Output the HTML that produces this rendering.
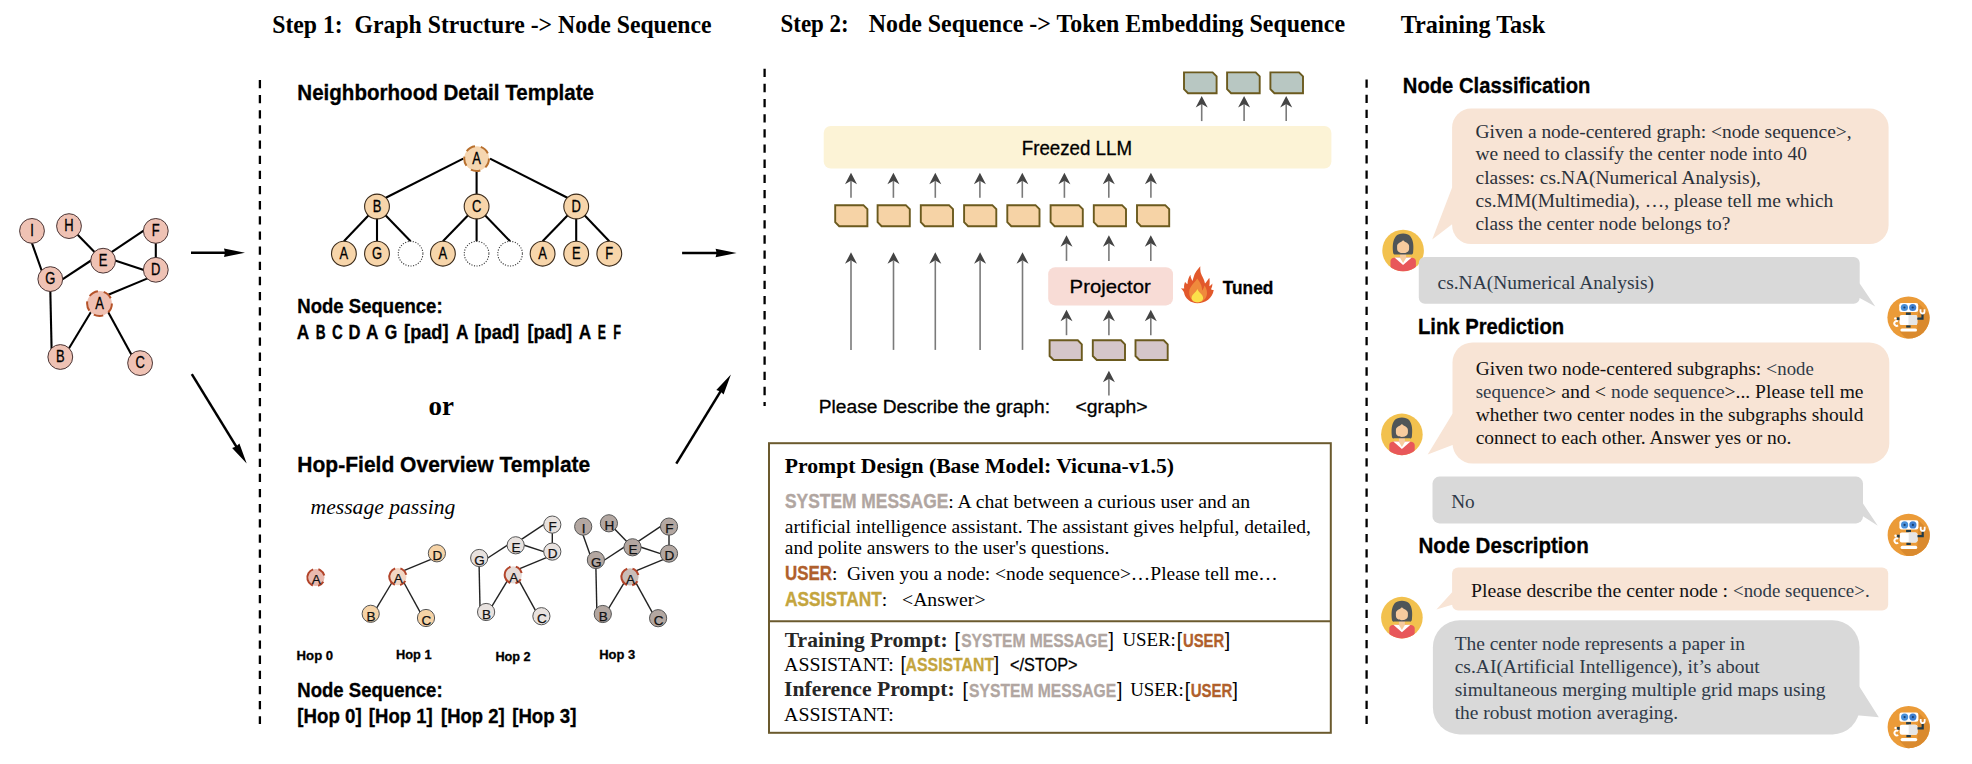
<!DOCTYPE html>
<html><head><meta charset="utf-8"><title>Figure</title>
<style>html,body{margin:0;padding:0;background:#fff;overflow:hidden;width:1972px;height:764px;}svg{display:block;}</style></head>
<body>
<svg width="1972" height="764" viewBox="0 0 1972 764">
<rect width="1972" height="764" fill="#fff"/>
<text x="272.2" y="32.9" font-size="25.3" fill="#000" textLength="439.4" lengthAdjust="spacingAndGlyphs" style='font-family:"Liberation Serif", serif;white-space:pre;font-weight:bold;' >Step 1:  Graph Structure -&gt; Node Sequence</text>
<text x="780.5" y="32.3" font-size="25.3" fill="#000" textLength="68.2" lengthAdjust="spacingAndGlyphs" style='font-family:"Liberation Serif", serif;white-space:pre;font-weight:bold;' >Step 2:</text>
<text x="868.7" y="32.3" font-size="25.3" fill="#000" textLength="476.4" lengthAdjust="spacingAndGlyphs" style='font-family:"Liberation Serif", serif;white-space:pre;font-weight:bold;' >Node Sequence -&gt; Token Embedding Sequence</text>
<text x="1400.7" y="33.0" font-size="25.3" fill="#000" textLength="144.5" lengthAdjust="spacingAndGlyphs" style='font-family:"Liberation Serif", serif;white-space:pre;font-weight:bold;' >Training Task</text>
<line x1="259.9" y1="79.9" x2="259.9" y2="724" stroke="#000" stroke-width="2.3" stroke-dasharray="8.3 6.85"/>
<line x1="764.6" y1="68.7" x2="764.6" y2="406" stroke="#000" stroke-width="2.3" stroke-dasharray="8.3 6.85"/>
<line x1="1366.6" y1="79.5" x2="1366.6" y2="724" stroke="#000" stroke-width="2.3" stroke-dasharray="8.3 6.85"/>
<line x1="31.6" y1="242.1" x2="42.0" y2="271.5" stroke="#000" stroke-width="2.1" />
<line x1="76.9" y1="234.0" x2="95.2" y2="252.8" stroke="#000" stroke-width="2.1" />
<line x1="110.8" y1="252.6" x2="144.4" y2="230.2" stroke="#000" stroke-width="2.1" />
<line x1="61.6" y1="279.8" x2="91.8" y2="260.0" stroke="#000" stroke-width="2.1" />
<line x1="114.3" y1="260.3" x2="144.6" y2="270.2" stroke="#000" stroke-width="2.1" />
<line x1="155.8" y1="242.0" x2="155.8" y2="258.7" stroke="#000" stroke-width="2.1" />
<line x1="148.2" y1="278.1" x2="107.1" y2="295.2" stroke="#000" stroke-width="2.1" />
<line x1="50.3" y1="290.2" x2="51.6" y2="349.5" stroke="#000" stroke-width="2.1" />
<line x1="91.4" y1="311.2" x2="68.4" y2="349.3" stroke="#000" stroke-width="2.1" />
<line x1="107.7" y1="311.2" x2="131.9" y2="355.4" stroke="#000" stroke-width="2.1" />
<circle cx="32.0" cy="230.9" r="12.4" fill="#efc2b4" stroke="#4a3535" stroke-width="1.0" />
<text x="30.20" y="236.1" font-size="15.8" textLength="3.60" lengthAdjust="spacingAndGlyphs" fill="#000" stroke="#000" stroke-width="0.3" style='font-family:"Liberation Sans",sans-serif;'>I</text>
<circle cx="69.0" cy="226.1" r="12.4" fill="#efc2b4" stroke="#4a3535" stroke-width="1.0" />
<text x="64.32" y="231.2" font-size="15.8" textLength="9.36" lengthAdjust="spacingAndGlyphs" fill="#000" stroke="#000" stroke-width="0.3" style='font-family:"Liberation Sans",sans-serif;'>H</text>
<circle cx="155.8" cy="230.9" r="12.4" fill="#efc2b4" stroke="#4a3535" stroke-width="1.0" />
<text x="151.84" y="236.1" font-size="15.8" textLength="7.91" lengthAdjust="spacingAndGlyphs" fill="#000" stroke="#000" stroke-width="0.3" style='font-family:"Liberation Sans",sans-serif;'>F</text>
<circle cx="103.1" cy="260.7" r="12.4" fill="#efc2b4" stroke="#4a3535" stroke-width="1.0" />
<text x="98.78" y="265.8" font-size="15.8" textLength="8.64" lengthAdjust="spacingAndGlyphs" fill="#000" stroke="#000" stroke-width="0.3" style='font-family:"Liberation Sans",sans-serif;'>E</text>
<circle cx="155.8" cy="269.8" r="12.4" fill="#efc2b4" stroke="#4a3535" stroke-width="1.0" />
<text x="151.12" y="274.9" font-size="15.8" textLength="9.36" lengthAdjust="spacingAndGlyphs" fill="#000" stroke="#000" stroke-width="0.3" style='font-family:"Liberation Sans",sans-serif;'>D</text>
<circle cx="50.3" cy="279.1" r="12.4" fill="#efc2b4" stroke="#4a3535" stroke-width="1.0" />
<text x="45.26" y="284.2" font-size="15.8" textLength="10.08" lengthAdjust="spacingAndGlyphs" fill="#000" stroke="#000" stroke-width="0.3" style='font-family:"Liberation Sans",sans-serif;'>G</text>
<circle cx="99.5" cy="303.5" r="12.4" fill="#efc0b2" stroke="#b5532a" stroke-width="2.0" stroke-dasharray="9.66 5.92"/>
<text x="95.18" y="308.6" font-size="15.8" textLength="8.64" lengthAdjust="spacingAndGlyphs" fill="#000" stroke="#000" stroke-width="0.3" style='font-family:"Liberation Sans",sans-serif;'>A</text>
<circle cx="60.3" cy="357.0" r="12.4" fill="#efc2b4" stroke="#4a3535" stroke-width="1.0" />
<text x="55.98" y="362.1" font-size="15.8" textLength="8.64" lengthAdjust="spacingAndGlyphs" fill="#000" stroke="#000" stroke-width="0.3" style='font-family:"Liberation Sans",sans-serif;'>B</text>
<circle cx="140.1" cy="363.1" r="12.4" fill="#efc2b4" stroke="#4a3535" stroke-width="1.0" />
<text x="135.42" y="368.2" font-size="15.8" textLength="9.36" lengthAdjust="spacingAndGlyphs" fill="#000" stroke="#000" stroke-width="0.3" style='font-family:"Liberation Sans",sans-serif;'>C</text>
<line x1="191.0" y1="252.7" x2="226.0" y2="252.7" stroke="#000" stroke-width="2.5" />
<path d="M245.0,252.7 L224.0,257.0 L225.0,252.7 L224.0,248.4 Z" fill="#000"/>
<line x1="191.8" y1="374.1" x2="236.8" y2="447.4" stroke="#000" stroke-width="2.5" />
<path d="M246.7,463.6 L232.1,447.9 L236.2,446.6 L239.4,443.5 Z" fill="#000"/>
<line x1="682.1" y1="253.0" x2="717.6" y2="253.0" stroke="#000" stroke-width="2.5" />
<path d="M736.6,253.0 L715.6,257.3 L716.6,253.0 L715.6,248.7 Z" fill="#000"/>
<line x1="676.3" y1="463.7" x2="721.0" y2="390.6" stroke="#000" stroke-width="2.5" />
<path d="M730.9,374.4 L723.6,394.6 L720.5,391.5 L716.3,390.1 Z" fill="#000"/>
<text x="297.3" y="99.5" font-size="21.8" fill="#000" textLength="296.7" lengthAdjust="spacingAndGlyphs" stroke="#000" stroke-width="0.3" style='font-family:"Liberation Sans", sans-serif;white-space:pre;font-weight:bold;' >Neighborhood Detail Template</text>
<line x1="463.2" y1="158.6" x2="385.8" y2="197.7" stroke="#000" stroke-width="2.1" />
<line x1="490.0" y1="158.6" x2="567.4" y2="197.7" stroke="#000" stroke-width="2.1" />
<line x1="476.6" y1="171.0" x2="476.6" y2="194.1" stroke="#000" stroke-width="2.1" />
<line x1="377.0" y1="206.5" x2="343.9" y2="241.3" stroke="#000" stroke-width="2.1" />
<line x1="377.0" y1="206.5" x2="377.0" y2="241.3" stroke="#000" stroke-width="2.1" />
<line x1="377.0" y1="206.5" x2="410.6" y2="241.3" stroke="#000" stroke-width="2.1" />
<line x1="476.6" y1="206.5" x2="442.9" y2="241.3" stroke="#000" stroke-width="2.1" />
<line x1="476.6" y1="206.5" x2="476.6" y2="241.3" stroke="#000" stroke-width="2.1" />
<line x1="476.6" y1="206.5" x2="510.1" y2="241.3" stroke="#000" stroke-width="2.1" />
<line x1="576.2" y1="206.5" x2="542.6" y2="241.3" stroke="#000" stroke-width="2.1" />
<line x1="576.2" y1="206.5" x2="576.2" y2="241.3" stroke="#000" stroke-width="2.1" />
<line x1="576.2" y1="206.5" x2="609.3" y2="241.3" stroke="#000" stroke-width="2.1" />
<circle cx="343.9" cy="253.7" r="12.4" fill="#f7d5aa" stroke="#3a2a1a" stroke-width="1.1" />
<text x="339.58" y="258.8" font-size="15.8" textLength="8.64" lengthAdjust="spacingAndGlyphs" fill="#000" stroke="#000" stroke-width="0.3" style='font-family:"Liberation Sans",sans-serif;'>A</text>
<circle cx="377.0" cy="253.7" r="12.4" fill="#f7d5aa" stroke="#3a2a1a" stroke-width="1.1" />
<text x="371.96" y="258.8" font-size="15.8" textLength="10.08" lengthAdjust="spacingAndGlyphs" fill="#000" stroke="#000" stroke-width="0.3" style='font-family:"Liberation Sans",sans-serif;'>G</text>
<circle cx="410.6" cy="253.7" r="12.3" fill="#fff" stroke="#333" stroke-width="1.1" stroke-dasharray="1.1 1.5"/>
<circle cx="442.9" cy="253.7" r="12.4" fill="#f7d5aa" stroke="#3a2a1a" stroke-width="1.1" />
<text x="438.58" y="258.8" font-size="15.8" textLength="8.64" lengthAdjust="spacingAndGlyphs" fill="#000" stroke="#000" stroke-width="0.3" style='font-family:"Liberation Sans",sans-serif;'>A</text>
<circle cx="476.6" cy="253.7" r="12.3" fill="#fff" stroke="#333" stroke-width="1.1" stroke-dasharray="1.1 1.5"/>
<circle cx="510.1" cy="253.7" r="12.3" fill="#fff" stroke="#333" stroke-width="1.1" stroke-dasharray="1.1 1.5"/>
<circle cx="542.6" cy="253.7" r="12.4" fill="#f7d5aa" stroke="#3a2a1a" stroke-width="1.1" />
<text x="538.28" y="258.8" font-size="15.8" textLength="8.64" lengthAdjust="spacingAndGlyphs" fill="#000" stroke="#000" stroke-width="0.3" style='font-family:"Liberation Sans",sans-serif;'>A</text>
<circle cx="576.2" cy="253.7" r="12.4" fill="#f7d5aa" stroke="#3a2a1a" stroke-width="1.1" />
<text x="571.88" y="258.8" font-size="15.8" textLength="8.64" lengthAdjust="spacingAndGlyphs" fill="#000" stroke="#000" stroke-width="0.3" style='font-family:"Liberation Sans",sans-serif;'>E</text>
<circle cx="609.3" cy="253.7" r="12.4" fill="#f7d5aa" stroke="#3a2a1a" stroke-width="1.1" />
<text x="605.34" y="258.8" font-size="15.8" textLength="7.91" lengthAdjust="spacingAndGlyphs" fill="#000" stroke="#000" stroke-width="0.3" style='font-family:"Liberation Sans",sans-serif;'>F</text>
<circle cx="377.0" cy="206.5" r="12.4" fill="#f7d5aa" stroke="#3a2a1a" stroke-width="1.1" />
<text x="372.68" y="211.7" font-size="15.8" textLength="8.64" lengthAdjust="spacingAndGlyphs" fill="#000" stroke="#000" stroke-width="0.3" style='font-family:"Liberation Sans",sans-serif;'>B</text>
<circle cx="476.6" cy="206.5" r="12.4" fill="#f7d5aa" stroke="#3a2a1a" stroke-width="1.1" />
<text x="471.92" y="211.7" font-size="15.8" textLength="9.36" lengthAdjust="spacingAndGlyphs" fill="#000" stroke="#000" stroke-width="0.3" style='font-family:"Liberation Sans",sans-serif;'>C</text>
<circle cx="576.2" cy="206.5" r="12.4" fill="#f7d5aa" stroke="#3a2a1a" stroke-width="1.1" />
<text x="571.52" y="211.7" font-size="15.8" textLength="9.36" lengthAdjust="spacingAndGlyphs" fill="#000" stroke="#000" stroke-width="0.3" style='font-family:"Liberation Sans",sans-serif;'>D</text>
<circle cx="476.6" cy="158.6" r="12.4" fill="#f6d6b0" stroke="#b8702e" stroke-width="2.0" stroke-dasharray="9.66 5.92"/>
<text x="472.28" y="163.8" font-size="15.8" textLength="8.64" lengthAdjust="spacingAndGlyphs" fill="#000" stroke="#000" stroke-width="0.3" style='font-family:"Liberation Sans",sans-serif;'>A</text>
<text x="297.3" y="313.1" font-size="19.5" fill="#000" textLength="145.3" lengthAdjust="spacingAndGlyphs" stroke="#000" stroke-width="0.3" style='font-family:"Liberation Sans", sans-serif;white-space:pre;font-weight:bold;' >Node Sequence:</text>
<text x="296.7" y="338.7" font-size="19.5" fill="#000" textLength="12.5" lengthAdjust="spacingAndGlyphs" stroke="#000" stroke-width="0.3" style='font-family:"Liberation Sans", sans-serif;white-space:pre;font-weight:bold;' >A</text>
<text x="315.7" y="338.7" font-size="19.5" fill="#000" textLength="9.9" lengthAdjust="spacingAndGlyphs" stroke="#000" stroke-width="0.3" style='font-family:"Liberation Sans", sans-serif;white-space:pre;font-weight:bold;' >B</text>
<text x="332.1" y="338.7" font-size="19.5" fill="#000" textLength="10.8" lengthAdjust="spacingAndGlyphs" stroke="#000" stroke-width="0.3" style='font-family:"Liberation Sans", sans-serif;white-space:pre;font-weight:bold;' >C</text>
<text x="348.5" y="338.7" font-size="19.5" fill="#000" textLength="12.0" lengthAdjust="spacingAndGlyphs" stroke="#000" stroke-width="0.3" style='font-family:"Liberation Sans", sans-serif;white-space:pre;font-weight:bold;' >D</text>
<text x="366.1" y="338.7" font-size="19.5" fill="#000" textLength="12.5" lengthAdjust="spacingAndGlyphs" stroke="#000" stroke-width="0.3" style='font-family:"Liberation Sans", sans-serif;white-space:pre;font-weight:bold;' >A</text>
<text x="384.7" y="338.7" font-size="19.5" fill="#000" textLength="12.5" lengthAdjust="spacingAndGlyphs" stroke="#000" stroke-width="0.3" style='font-family:"Liberation Sans", sans-serif;white-space:pre;font-weight:bold;' >G</text>
<text x="404.1" y="338.7" font-size="19.5" fill="#000" textLength="44.4" lengthAdjust="spacingAndGlyphs" stroke="#000" stroke-width="0.3" style='font-family:"Liberation Sans", sans-serif;white-space:pre;font-weight:bold;' >[pad]</text>
<text x="455.9" y="338.7" font-size="19.5" fill="#000" textLength="12.5" lengthAdjust="spacingAndGlyphs" stroke="#000" stroke-width="0.3" style='font-family:"Liberation Sans", sans-serif;white-space:pre;font-weight:bold;' >A</text>
<text x="474.4" y="338.7" font-size="19.5" fill="#000" textLength="44.8" lengthAdjust="spacingAndGlyphs" stroke="#000" stroke-width="0.3" style='font-family:"Liberation Sans", sans-serif;white-space:pre;font-weight:bold;' >[pad]</text>
<text x="527.4" y="338.7" font-size="19.5" fill="#000" textLength="44.8" lengthAdjust="spacingAndGlyphs" stroke="#000" stroke-width="0.3" style='font-family:"Liberation Sans", sans-serif;white-space:pre;font-weight:bold;' >[pad]</text>
<text x="578.7" y="338.7" font-size="19.5" fill="#000" textLength="12.5" lengthAdjust="spacingAndGlyphs" stroke="#000" stroke-width="0.3" style='font-family:"Liberation Sans", sans-serif;white-space:pre;font-weight:bold;' >A</text>
<text x="597.7" y="338.7" font-size="19.5" fill="#000" textLength="8.2" lengthAdjust="spacingAndGlyphs" stroke="#000" stroke-width="0.3" style='font-family:"Liberation Sans", sans-serif;white-space:pre;font-weight:bold;' >E</text>
<text x="613.2" y="338.7" font-size="19.5" fill="#000" textLength="7.8" lengthAdjust="spacingAndGlyphs" stroke="#000" stroke-width="0.3" style='font-family:"Liberation Sans", sans-serif;white-space:pre;font-weight:bold;' >F</text>
<text x="428.6" y="415.0" font-size="26.5" fill="#000" textLength="25.4" lengthAdjust="spacingAndGlyphs" style='font-family:"Liberation Serif", serif;white-space:pre;font-weight:bold;' >or</text>
<text x="297.3" y="472.3" font-size="21.8" fill="#000" textLength="293.0" lengthAdjust="spacingAndGlyphs" stroke="#000" stroke-width="0.3" style='font-family:"Liberation Sans", sans-serif;white-space:pre;font-weight:bold;' >Hop-Field Overview Template</text>
<text x="310.6" y="514.0" font-size="21.5" fill="#000" textLength="144.7" lengthAdjust="spacingAndGlyphs" style='font-family:"Liberation Serif", serif;white-space:pre;font-style:italic;' >message passing</text>
<circle cx="315.9" cy="577.5" r="8.6" fill="#e9b9ae"/>
<circle cx="315.9" cy="577.5" r="8.6" fill="none" stroke="#b2442a" stroke-width="2" stroke-dasharray="6.75 5.25 21.01 5.25 9.01 6.75" transform="rotate(30 315.9 577.5)"/>
<text x="316.3" y="584.3" font-size="13.5" text-anchor="middle" fill="#111" stroke="#111" stroke-width="0.25" style='font-family:"Liberation Sans",sans-serif;'>A</text>
<line x1="431.6" y1="559.1" x2="403.2" y2="570.9" stroke="#222" stroke-width="1.4" />
<line x1="392.3" y1="582.0" x2="376.4" y2="608.4" stroke="#222" stroke-width="1.4" />
<line x1="403.6" y1="582.0" x2="420.4" y2="612.6" stroke="#222" stroke-width="1.4" />
<circle cx="397.9" cy="576.7" r="8.6" fill="#f3d6c4"/>
<circle cx="397.9" cy="576.7" r="8.6" fill="none" stroke="#b2442a" stroke-width="2" stroke-dasharray="6.75 5.25 21.01 5.25 9.01 6.75" transform="rotate(30 397.9 576.7)"/>
<text x="398.3" y="583.4" font-size="13.5" text-anchor="middle" fill="#111" stroke="#111" stroke-width="0.25" style='font-family:"Liberation Sans",sans-serif;'>A</text>
<circle cx="436.9" cy="553.3" r="8.6" fill="#f6d3a6" stroke="#555" stroke-width="1.0" />
<text x="437.3" y="560.1" font-size="13.5" text-anchor="middle" fill="#111" stroke="#111" stroke-width="0.25" style='font-family:"Liberation Sans",sans-serif;'>D</text>
<circle cx="370.7" cy="613.8" r="8.6" fill="#f6d3a6" stroke="#555" stroke-width="1.0" />
<text x="371.1" y="620.5" font-size="13.5" text-anchor="middle" fill="#111" stroke="#111" stroke-width="0.25" style='font-family:"Liberation Sans",sans-serif;'>B</text>
<circle cx="426.0" cy="618.0" r="8.6" fill="#f6d3a6" stroke="#555" stroke-width="1.0" />
<text x="426.4" y="624.7" font-size="13.5" text-anchor="middle" fill="#111" stroke="#111" stroke-width="0.25" style='font-family:"Liberation Sans",sans-serif;'>C</text>
<line x1="521.1" y1="539.7" x2="544.4" y2="524.1" stroke="#222" stroke-width="1.4" />
<line x1="487.0" y1="558.5" x2="507.9" y2="544.8" stroke="#222" stroke-width="1.4" />
<line x1="523.5" y1="545.0" x2="544.5" y2="551.8" stroke="#222" stroke-width="1.4" />
<line x1="552.3" y1="532.4" x2="552.3" y2="543.8" stroke="#222" stroke-width="1.4" />
<line x1="547.0" y1="557.3" x2="518.6" y2="569.2" stroke="#222" stroke-width="1.4" />
<line x1="479.1" y1="565.8" x2="480.0" y2="606.8" stroke="#222" stroke-width="1.4" />
<line x1="507.6" y1="580.3" x2="491.7" y2="606.6" stroke="#222" stroke-width="1.4" />
<line x1="518.9" y1="580.3" x2="535.7" y2="610.9" stroke="#222" stroke-width="1.4" />
<circle cx="552.3" cy="524.6" r="8.6" fill="#e8e2df" stroke="#555" stroke-width="1.0" />
<text x="552.7" y="531.4" font-size="13.5" text-anchor="middle" fill="#111" stroke="#111" stroke-width="0.25" style='font-family:"Liberation Sans",sans-serif;'>F</text>
<circle cx="515.7" cy="545.3" r="8.6" fill="#e8e2df" stroke="#555" stroke-width="1.0" />
<text x="516.1" y="552.0" font-size="13.5" text-anchor="middle" fill="#111" stroke="#111" stroke-width="0.25" style='font-family:"Liberation Sans",sans-serif;'>E</text>
<circle cx="552.3" cy="551.6" r="8.6" fill="#e8e2df" stroke="#555" stroke-width="1.0" />
<text x="552.7" y="558.3" font-size="13.5" text-anchor="middle" fill="#111" stroke="#111" stroke-width="0.25" style='font-family:"Liberation Sans",sans-serif;'>D</text>
<circle cx="479.2" cy="558.0" r="8.6" fill="#e8e2df" stroke="#555" stroke-width="1.0" />
<text x="479.6" y="564.8" font-size="13.5" text-anchor="middle" fill="#111" stroke="#111" stroke-width="0.25" style='font-family:"Liberation Sans",sans-serif;'>G</text>
<circle cx="513.3" cy="574.9" r="8.6" fill="#e5dad6"/>
<circle cx="513.3" cy="574.9" r="8.6" fill="none" stroke="#b2442a" stroke-width="2" stroke-dasharray="6.75 5.25 21.01 5.25 9.01 6.75" transform="rotate(30 513.3 574.9)"/>
<text x="513.7" y="581.7" font-size="13.5" text-anchor="middle" fill="#111" stroke="#111" stroke-width="0.25" style='font-family:"Liberation Sans",sans-serif;'>A</text>
<circle cx="486.1" cy="612.0" r="8.6" fill="#e8e2df" stroke="#555" stroke-width="1.0" />
<text x="486.5" y="618.8" font-size="13.5" text-anchor="middle" fill="#111" stroke="#111" stroke-width="0.25" style='font-family:"Liberation Sans",sans-serif;'>B</text>
<circle cx="541.4" cy="616.2" r="8.6" fill="#e8e2df" stroke="#555" stroke-width="1.0" />
<text x="541.8" y="623.0" font-size="13.5" text-anchor="middle" fill="#111" stroke="#111" stroke-width="0.25" style='font-family:"Liberation Sans",sans-serif;'>C</text>
<line x1="582.9" y1="534.4" x2="590.1" y2="554.7" stroke="#222" stroke-width="1.4" />
<line x1="614.4" y1="528.8" x2="627.0" y2="541.8" stroke="#222" stroke-width="1.4" />
<line x1="637.9" y1="541.7" x2="661.1" y2="526.1" stroke="#222" stroke-width="1.4" />
<line x1="603.8" y1="560.5" x2="624.6" y2="546.8" stroke="#222" stroke-width="1.4" />
<line x1="640.3" y1="547.0" x2="661.2" y2="553.8" stroke="#222" stroke-width="1.4" />
<line x1="669.0" y1="534.4" x2="669.0" y2="545.8" stroke="#222" stroke-width="1.4" />
<line x1="663.7" y1="559.3" x2="635.3" y2="571.2" stroke="#222" stroke-width="1.4" />
<line x1="595.9" y1="567.8" x2="596.8" y2="608.8" stroke="#222" stroke-width="1.4" />
<line x1="624.4" y1="582.3" x2="608.5" y2="608.6" stroke="#222" stroke-width="1.4" />
<line x1="635.7" y1="582.3" x2="652.5" y2="612.9" stroke="#222" stroke-width="1.4" />
<circle cx="583.2" cy="526.6" r="8.6" fill="#b3a7a1" stroke="#555" stroke-width="1.0" />
<text x="583.6" y="533.4" font-size="13.5" text-anchor="middle" fill="#111" stroke="#111" stroke-width="0.25" style='font-family:"Liberation Sans",sans-serif;'>I</text>
<circle cx="608.9" cy="523.3" r="8.6" fill="#b3a7a1" stroke="#555" stroke-width="1.0" />
<text x="609.3" y="530.0" font-size="13.5" text-anchor="middle" fill="#111" stroke="#111" stroke-width="0.25" style='font-family:"Liberation Sans",sans-serif;'>H</text>
<circle cx="669.0" cy="526.6" r="8.6" fill="#b3a7a1" stroke="#555" stroke-width="1.0" />
<text x="669.4" y="533.4" font-size="13.5" text-anchor="middle" fill="#111" stroke="#111" stroke-width="0.25" style='font-family:"Liberation Sans",sans-serif;'>F</text>
<circle cx="632.5" cy="547.3" r="8.6" fill="#b3a7a1" stroke="#555" stroke-width="1.0" />
<text x="632.9" y="554.0" font-size="13.5" text-anchor="middle" fill="#111" stroke="#111" stroke-width="0.25" style='font-family:"Liberation Sans",sans-serif;'>E</text>
<circle cx="669.0" cy="553.6" r="8.6" fill="#b3a7a1" stroke="#555" stroke-width="1.0" />
<text x="669.4" y="560.3" font-size="13.5" text-anchor="middle" fill="#111" stroke="#111" stroke-width="0.25" style='font-family:"Liberation Sans",sans-serif;'>D</text>
<circle cx="595.9" cy="560.0" r="8.6" fill="#b3a7a1" stroke="#555" stroke-width="1.0" />
<text x="596.3" y="566.8" font-size="13.5" text-anchor="middle" fill="#111" stroke="#111" stroke-width="0.25" style='font-family:"Liberation Sans",sans-serif;'>G</text>
<circle cx="630.0" cy="576.9" r="8.6" fill="#c9bdb8"/>
<circle cx="630.0" cy="576.9" r="8.6" fill="none" stroke="#b2442a" stroke-width="2" stroke-dasharray="6.75 5.25 21.01 5.25 9.01 6.75" transform="rotate(30 630.0 576.9)"/>
<text x="630.4" y="583.7" font-size="13.5" text-anchor="middle" fill="#111" stroke="#111" stroke-width="0.25" style='font-family:"Liberation Sans",sans-serif;'>A</text>
<circle cx="602.8" cy="614.0" r="8.6" fill="#b3a7a1" stroke="#555" stroke-width="1.0" />
<text x="603.2" y="620.8" font-size="13.5" text-anchor="middle" fill="#111" stroke="#111" stroke-width="0.25" style='font-family:"Liberation Sans",sans-serif;'>B</text>
<circle cx="658.1" cy="618.2" r="8.6" fill="#b3a7a1" stroke="#555" stroke-width="1.0" />
<text x="658.5" y="625.0" font-size="13.5" text-anchor="middle" fill="#111" stroke="#111" stroke-width="0.25" style='font-family:"Liberation Sans",sans-serif;'>C</text>
<text x="296.6" y="659.7" font-size="13.7" fill="#000" textLength="36.6" lengthAdjust="spacingAndGlyphs" stroke="#000" stroke-width="0.3" style='font-family:"Liberation Sans", sans-serif;white-space:pre;font-weight:bold;' >Hop 0</text>
<text x="396.0" y="659.1" font-size="13.7" fill="#000" textLength="35.6" lengthAdjust="spacingAndGlyphs" stroke="#000" stroke-width="0.3" style='font-family:"Liberation Sans", sans-serif;white-space:pre;font-weight:bold;' >Hop 1</text>
<text x="495.4" y="661.0" font-size="13.7" fill="#000" textLength="35.3" lengthAdjust="spacingAndGlyphs" stroke="#000" stroke-width="0.3" style='font-family:"Liberation Sans", sans-serif;white-space:pre;font-weight:bold;' >Hop 2</text>
<text x="599.2" y="658.8" font-size="13.7" fill="#000" textLength="36.0" lengthAdjust="spacingAndGlyphs" stroke="#000" stroke-width="0.3" style='font-family:"Liberation Sans", sans-serif;white-space:pre;font-weight:bold;' >Hop 3</text>
<text x="297.3" y="696.8" font-size="19.5" fill="#000" textLength="145.3" lengthAdjust="spacingAndGlyphs" stroke="#000" stroke-width="0.3" style='font-family:"Liberation Sans", sans-serif;white-space:pre;font-weight:bold;' >Node Sequence:</text>
<text x="297.3" y="722.6" font-size="19.5" fill="#000" textLength="64.3" lengthAdjust="spacingAndGlyphs" stroke="#000" stroke-width="0.3" style='font-family:"Liberation Sans", sans-serif;white-space:pre;font-weight:bold;' >[Hop 0]</text>
<text x="368.8" y="722.6" font-size="19.5" fill="#000" textLength="63.9" lengthAdjust="spacingAndGlyphs" stroke="#000" stroke-width="0.3" style='font-family:"Liberation Sans", sans-serif;white-space:pre;font-weight:bold;' >[Hop 1]</text>
<text x="441.1" y="722.6" font-size="19.5" fill="#000" textLength="63.5" lengthAdjust="spacingAndGlyphs" stroke="#000" stroke-width="0.3" style='font-family:"Liberation Sans", sans-serif;white-space:pre;font-weight:bold;' >[Hop 2]</text>
<text x="512.2" y="722.6" font-size="19.5" fill="#000" textLength="64.2" lengthAdjust="spacingAndGlyphs" stroke="#000" stroke-width="0.3" style='font-family:"Liberation Sans", sans-serif;white-space:pre;font-weight:bold;' >[Hop 3]</text>
<rect x="823.7" y="125.9" width="507.7" height="42.6" rx="7" fill="#fcf3d6"/>
<text x="1021.8" y="155.2" font-size="19.9" fill="#000" textLength="110.2" lengthAdjust="spacingAndGlyphs" stroke="#000" stroke-width="0.3" style='font-family:"Liberation Sans", sans-serif;white-space:pre;' >Freezed LLM</text>
<path d="M1184.0,72.4 L1212.6,72.4 L1216.6,76.4 L1216.6,93.2 L1188.0,93.2 L1184.0,89.2 Z" fill="#b8c7c2" stroke="#6b5a1e" stroke-width="1.9" stroke-linejoin="miter"/>
<path d="M1227.1,72.4 L1255.7,72.4 L1259.7,76.4 L1259.7,93.2 L1231.1,93.2 L1227.1,89.2 Z" fill="#b8c7c2" stroke="#6b5a1e" stroke-width="1.9" stroke-linejoin="miter"/>
<path d="M1270.4,72.4 L1299.0,72.4 L1303.0,76.4 L1303.0,93.2 L1274.4,93.2 L1270.4,89.2 Z" fill="#b8c7c2" stroke="#6b5a1e" stroke-width="1.9" stroke-linejoin="miter"/>
<line x1="1201.7" y1="121.1" x2="1201.7" y2="103.9" stroke="#7a7a7a" stroke-width="1.6"/>
<path d="M1201.7,95.9 L1207.7,107.4 L1201.7,103.9 L1195.7,107.4 Z" fill="#444"/>
<line x1="1244.1" y1="121.1" x2="1244.1" y2="103.9" stroke="#7a7a7a" stroke-width="1.6"/>
<path d="M1244.1,95.9 L1250.1,107.4 L1244.1,103.9 L1238.1,107.4 Z" fill="#444"/>
<line x1="1286.2" y1="121.1" x2="1286.2" y2="103.9" stroke="#7a7a7a" stroke-width="1.6"/>
<path d="M1286.2,95.9 L1292.2,107.4 L1286.2,103.9 L1280.2,107.4 Z" fill="#444"/>
<path d="M835.2,205.2 L863.4,205.2 L867.4,209.2 L867.4,226.2 L839.2,226.2 L835.2,222.2 Z" fill="#f6d3a6" stroke="#6b5a1e" stroke-width="1.9" stroke-linejoin="miter"/>
<path d="M877.6,205.2 L905.8,205.2 L909.8,209.2 L909.8,226.2 L881.6,226.2 L877.6,222.2 Z" fill="#f6d3a6" stroke="#6b5a1e" stroke-width="1.9" stroke-linejoin="miter"/>
<path d="M920.8,205.2 L949.0,205.2 L953.0,209.2 L953.0,226.2 L924.8,226.2 L920.8,222.2 Z" fill="#f6d3a6" stroke="#6b5a1e" stroke-width="1.9" stroke-linejoin="miter"/>
<path d="M964.1,205.2 L992.3,205.2 L996.3,209.2 L996.3,226.2 L968.1,226.2 L964.1,222.2 Z" fill="#f6d3a6" stroke="#6b5a1e" stroke-width="1.9" stroke-linejoin="miter"/>
<path d="M1007.3,205.2 L1035.5,205.2 L1039.5,209.2 L1039.5,226.2 L1011.3,226.2 L1007.3,222.2 Z" fill="#f6d3a6" stroke="#6b5a1e" stroke-width="1.9" stroke-linejoin="miter"/>
<path d="M1050.6,205.2 L1078.8,205.2 L1082.8,209.2 L1082.8,226.2 L1054.6,226.2 L1050.6,222.2 Z" fill="#f6d3a6" stroke="#6b5a1e" stroke-width="1.9" stroke-linejoin="miter"/>
<path d="M1093.8,205.2 L1122.0,205.2 L1126.0,209.2 L1126.0,226.2 L1097.8,226.2 L1093.8,222.2 Z" fill="#f6d3a6" stroke="#6b5a1e" stroke-width="1.9" stroke-linejoin="miter"/>
<path d="M1137.0,205.2 L1165.2,205.2 L1169.2,209.2 L1169.2,226.2 L1141.0,226.2 L1137.0,222.2 Z" fill="#f6d3a6" stroke="#6b5a1e" stroke-width="1.9" stroke-linejoin="miter"/>
<line x1="851.0" y1="197.8" x2="851.0" y2="180.7" stroke="#7a7a7a" stroke-width="1.6"/>
<path d="M851.0,172.7 L857.0,184.2 L851.0,180.7 L845.0,184.2 Z" fill="#444"/>
<line x1="893.4" y1="197.8" x2="893.4" y2="180.7" stroke="#7a7a7a" stroke-width="1.6"/>
<path d="M893.4,172.7 L899.4,184.2 L893.4,180.7 L887.4,184.2 Z" fill="#444"/>
<line x1="935.3" y1="197.8" x2="935.3" y2="180.7" stroke="#7a7a7a" stroke-width="1.6"/>
<path d="M935.3,172.7 L941.3,184.2 L935.3,180.7 L929.3,184.2 Z" fill="#444"/>
<line x1="979.9" y1="197.8" x2="979.9" y2="180.7" stroke="#7a7a7a" stroke-width="1.6"/>
<path d="M979.9,172.7 L985.9,184.2 L979.9,180.7 L973.9,184.2 Z" fill="#444"/>
<line x1="1022.3" y1="197.8" x2="1022.3" y2="180.7" stroke="#7a7a7a" stroke-width="1.6"/>
<path d="M1022.3,172.7 L1028.3,184.2 L1022.3,180.7 L1016.3,184.2 Z" fill="#444"/>
<line x1="1064.4" y1="197.8" x2="1064.4" y2="180.7" stroke="#7a7a7a" stroke-width="1.6"/>
<path d="M1064.4,172.7 L1070.4,184.2 L1064.4,180.7 L1058.4,184.2 Z" fill="#444"/>
<line x1="1108.8" y1="197.8" x2="1108.8" y2="180.7" stroke="#7a7a7a" stroke-width="1.6"/>
<path d="M1108.8,172.7 L1114.8,184.2 L1108.8,180.7 L1102.8,184.2 Z" fill="#444"/>
<line x1="1150.9" y1="197.8" x2="1150.9" y2="180.7" stroke="#7a7a7a" stroke-width="1.6"/>
<path d="M1150.9,172.7 L1156.9,184.2 L1150.9,180.7 L1144.9,184.2 Z" fill="#444"/>
<line x1="851.0" y1="349.9" x2="851.0" y2="260.3" stroke="#7a7a7a" stroke-width="1.6"/>
<path d="M851.0,252.3 L857.0,263.8 L851.0,260.3 L845.0,263.8 Z" fill="#444"/>
<line x1="893.5" y1="349.9" x2="893.5" y2="260.3" stroke="#7a7a7a" stroke-width="1.6"/>
<path d="M893.5,252.3 L899.5,263.8 L893.5,260.3 L887.5,263.8 Z" fill="#444"/>
<line x1="935.3" y1="349.9" x2="935.3" y2="260.3" stroke="#7a7a7a" stroke-width="1.6"/>
<path d="M935.3,252.3 L941.3,263.8 L935.3,260.3 L929.3,263.8 Z" fill="#444"/>
<line x1="980.1" y1="349.9" x2="980.1" y2="260.3" stroke="#7a7a7a" stroke-width="1.6"/>
<path d="M980.1,252.3 L986.1,263.8 L980.1,260.3 L974.1,263.8 Z" fill="#444"/>
<line x1="1022.5" y1="349.9" x2="1022.5" y2="260.3" stroke="#7a7a7a" stroke-width="1.6"/>
<path d="M1022.5,252.3 L1028.5,263.8 L1022.5,260.3 L1016.5,263.8 Z" fill="#444"/>
<rect x="1048.2" y="267.2" width="124.8" height="38.2" rx="7" fill="#f8dcd6"/>
<text x="1069.6" y="292.8" font-size="19" fill="#000" textLength="81.2" lengthAdjust="spacingAndGlyphs" stroke="#000" stroke-width="0.3" style='font-family:"Liberation Sans", sans-serif;white-space:pre;' >Projector</text>
<line x1="1066.5" y1="260.9" x2="1066.5" y2="243.2" stroke="#7a7a7a" stroke-width="1.6"/>
<path d="M1066.5,235.2 L1072.5,246.7 L1066.5,243.2 L1060.5,246.7 Z" fill="#444"/>
<line x1="1066.5" y1="335.2" x2="1066.5" y2="317.8" stroke="#7a7a7a" stroke-width="1.6"/>
<path d="M1066.5,309.8 L1072.5,321.3 L1066.5,317.8 L1060.5,321.3 Z" fill="#444"/>
<line x1="1108.9" y1="260.9" x2="1108.9" y2="243.2" stroke="#7a7a7a" stroke-width="1.6"/>
<path d="M1108.9,235.2 L1114.9,246.7 L1108.9,243.2 L1102.9,246.7 Z" fill="#444"/>
<line x1="1108.9" y1="335.2" x2="1108.9" y2="317.8" stroke="#7a7a7a" stroke-width="1.6"/>
<path d="M1108.9,309.8 L1114.9,321.3 L1108.9,317.8 L1102.9,321.3 Z" fill="#444"/>
<line x1="1150.8" y1="260.9" x2="1150.8" y2="243.2" stroke="#7a7a7a" stroke-width="1.6"/>
<path d="M1150.8,235.2 L1156.8,246.7 L1150.8,243.2 L1144.8,246.7 Z" fill="#444"/>
<line x1="1150.8" y1="335.2" x2="1150.8" y2="317.8" stroke="#7a7a7a" stroke-width="1.6"/>
<path d="M1150.8,309.8 L1156.8,321.3 L1150.8,317.8 L1144.8,321.3 Z" fill="#444"/>
<path d="M1049.6,340.3 L1077.8,340.3 L1081.8,344.3 L1081.8,360.0 L1053.6,360.0 L1049.6,356.0 Z" fill="#d5c6c9" stroke="#6b5a1e" stroke-width="1.9" stroke-linejoin="miter"/>
<path d="M1092.8,340.3 L1121.0,340.3 L1125.0,344.3 L1125.0,360.0 L1096.8,360.0 L1092.8,356.0 Z" fill="#d5c6c9" stroke="#6b5a1e" stroke-width="1.9" stroke-linejoin="miter"/>
<path d="M1135.5,340.3 L1163.7,340.3 L1167.7,344.3 L1167.7,360.0 L1139.5,360.0 L1135.5,356.0 Z" fill="#d5c6c9" stroke="#6b5a1e" stroke-width="1.9" stroke-linejoin="miter"/>
<line x1="1108.9" y1="395.4" x2="1108.9" y2="378.8" stroke="#7a7a7a" stroke-width="1.6"/>
<path d="M1108.9,370.8 L1114.9,382.3 L1108.9,378.8 L1102.9,382.3 Z" fill="#444"/>
<text x="818.8" y="413.2" font-size="18.7" fill="#000" textLength="231.2" lengthAdjust="spacingAndGlyphs" stroke="#000" stroke-width="0.3" style='font-family:"Liberation Sans", sans-serif;white-space:pre;' >Please Describe the graph:</text>
<text x="1075.4" y="413.2" font-size="18.7" fill="#000" textLength="72.2" lengthAdjust="spacingAndGlyphs" stroke="#000" stroke-width="0.3" style='font-family:"Liberation Sans", sans-serif;white-space:pre;' >&lt;graph&gt;</text>
<g transform="translate(1178,263)">
<path d="M22.3,3.3 C20,6 16.5,9.5 15.5,14.5 C15,16 14.8,17 14.5,18 C13.5,16 12.5,14 12.4,11.8 C11,14 9.5,17 9.5,21 C8.5,20.5 7.5,19.8 7.1,18.7 C6.2,21 5.8,23 6.2,25.5 C5,25.5 3.8,25.5 3,25.3 C4.5,27 5.5,28 6,29.5 C7,35.5 12.5,40.2 19.4,40.2 C27.5,40.2 34.5,35 35.7,26.9 C34.5,27 33.5,26.5 33,26.2 C34,24.5 34.5,22.5 34.3,20.6 C33.2,22 32.3,22.8 31.3,23.2 C31.8,20 31.8,17 31.3,14.8 C30,17 28.5,19 27,20.5 C26,15 23,12 22.5,8.5 C22.2,6.5 22.2,5 22.3,3.3 Z" fill="#e2582b"/>
<path d="M19.2,15.5 C17,19.5 11.5,23 11.2,29 C11,35 15,39.5 19.5,39.5 C24.5,39.5 29,35.5 29,30 C29,26.5 27.5,24 26.5,22.5 C26,25 25,26.5 24,27.5 C24.5,23 21.5,18.5 19.2,15.5 Z" fill="#ef8a3c"/>
<path d="M19.4,26 C18,29.5 13.6,31.5 13.6,35 C13.6,37.8 16.2,39.2 19.4,39.2 C22.6,39.2 25.1,37.8 25.1,35 C25.1,31.5 20.6,29.5 19.4,26 Z" fill="#fbe14a"/>
</g>
<text x="1222.8" y="293.6" font-size="18.3" fill="#000" textLength="50.5" lengthAdjust="spacingAndGlyphs" stroke="#000" stroke-width="0.3" style='font-family:"Liberation Sans", sans-serif;white-space:pre;font-weight:bold;' >Tuned</text>
<rect x="769" y="443.2" width="561.8" height="289.6" fill="#fff" stroke="#6b5a2e" stroke-width="2"/>
<line x1="769.0" y1="621.3" x2="1330.8" y2="621.3" stroke="#6b5a2e" stroke-width="2" />
<text x="784.8" y="472.7" font-size="21.5" fill="#000" textLength="389.2" lengthAdjust="spacingAndGlyphs" style='font-family:"Liberation Serif", serif;white-space:pre;font-weight:bold;' >Prompt Design (Base Model: Vicuna-v1.5)</text>
<text x="785.0" y="507.9" font-size="20" fill="#b1a6a1" textLength="163.3" lengthAdjust="spacingAndGlyphs" stroke="#b1a6a1" stroke-width="0.35" style='font-family:"Liberation Sans", sans-serif;white-space:pre;font-weight:bold;' >SYSTEM MESSAGE</text>
<text x="948.3" y="507.9" font-size="19.3" fill="#000" textLength="301.9" lengthAdjust="spacingAndGlyphs" style='font-family:"Liberation Serif", serif;white-space:pre;' >: A chat between a curious user and an</text>
<text x="784.8" y="533.3" font-size="19.3" fill="#000" textLength="526.1" lengthAdjust="spacingAndGlyphs" style='font-family:"Liberation Serif", serif;white-space:pre;' >artificial intelligence assistant. The assistant gives helpful, detailed,</text>
<text x="784.8" y="554.2" font-size="19.3" fill="#000" textLength="324.5" lengthAdjust="spacingAndGlyphs" style='font-family:"Liberation Serif", serif;white-space:pre;' >and polite answers to the user's questions.</text>
<text x="785.0" y="580.4" font-size="20" fill="#b05f2c" textLength="46.9" lengthAdjust="spacingAndGlyphs" stroke="#b05f2c" stroke-width="0.35" style='font-family:"Liberation Sans", sans-serif;white-space:pre;font-weight:bold;' >USER</text>
<text x="831.9" y="580.4" font-size="19.3" fill="#000" textLength="445.9" lengthAdjust="spacingAndGlyphs" style='font-family:"Liberation Serif", serif;white-space:pre;' >:  Given you a node: &lt;node sequence&gt;…Please tell me…</text>
<text x="785.0" y="605.7" font-size="20" fill="#c4a53e" textLength="96.8" lengthAdjust="spacingAndGlyphs" stroke="#c4a53e" stroke-width="0.35" style='font-family:"Liberation Sans", sans-serif;white-space:pre;font-weight:bold;' >ASSISTANT</text>
<text x="881.8" y="605.7" font-size="19.3" fill="#000" textLength="103.7" lengthAdjust="spacingAndGlyphs" style='font-family:"Liberation Serif", serif;white-space:pre;' >:   &lt;Answer&gt;</text>
<text x="784.8" y="646.5" font-size="21" fill="#262626" textLength="162.8" lengthAdjust="spacingAndGlyphs" style='font-family:"Liberation Serif", serif;white-space:pre;font-weight:bold;' >Training Prompt:</text>
<text x="954.6" y="646.8" font-size="19.5" fill="#000" textLength="5.4" lengthAdjust="spacingAndGlyphs" style='font-family:"Liberation Sans", sans-serif;white-space:pre;' >[</text>
<text x="961.2" y="646.8" font-size="18.8" fill="#b1a6a1" textLength="146.7" lengthAdjust="spacingAndGlyphs" stroke="#b1a6a1" stroke-width="0.3" style='font-family:"Liberation Sans", sans-serif;white-space:pre;font-weight:bold;' >SYSTEM MESSAGE</text>
<text x="1108.6" y="646.8" font-size="19.5" fill="#000" textLength="5.4" lengthAdjust="spacingAndGlyphs" style='font-family:"Liberation Sans", sans-serif;white-space:pre;' >]</text>
<text x="1122.4" y="646.2" font-size="19.3" fill="#000" textLength="53.4" lengthAdjust="spacingAndGlyphs" style='font-family:"Liberation Serif", serif;white-space:pre;' >USER:</text>
<text x="1176.8" y="646.8" font-size="19.5" fill="#000" textLength="5.4" lengthAdjust="spacingAndGlyphs" style='font-family:"Liberation Sans", sans-serif;white-space:pre;' >[</text>
<text x="1182.9" y="646.8" font-size="18.8" fill="#b05f2c" textLength="41.3" lengthAdjust="spacingAndGlyphs" stroke="#b05f2c" stroke-width="0.3" style='font-family:"Liberation Sans", sans-serif;white-space:pre;font-weight:bold;' >USER</text>
<text x="1224.8" y="646.8" font-size="19.5" fill="#000" textLength="5.4" lengthAdjust="spacingAndGlyphs" style='font-family:"Liberation Sans", sans-serif;white-space:pre;' >]</text>
<text x="784.1" y="670.6" font-size="19.3" fill="#000" textLength="109.6" lengthAdjust="spacingAndGlyphs" style='font-family:"Liberation Serif", serif;white-space:pre;' >ASSISTANT:</text>
<text x="900.6" y="671.0" font-size="19.5" fill="#000" textLength="5.4" lengthAdjust="spacingAndGlyphs" style='font-family:"Liberation Sans", sans-serif;white-space:pre;' >[</text>
<text x="905.6" y="671.0" font-size="18.8" fill="#c4a53e" textLength="88.5" lengthAdjust="spacingAndGlyphs" stroke="#c4a53e" stroke-width="0.3" style='font-family:"Liberation Sans", sans-serif;white-space:pre;font-weight:bold;' >ASSISTANT</text>
<text x="993.8" y="671.0" font-size="19.5" fill="#000" textLength="5.4" lengthAdjust="spacingAndGlyphs" style='font-family:"Liberation Sans", sans-serif;white-space:pre;' >]</text>
<text x="1010.0" y="671.0" font-size="18.8" fill="#000" textLength="67.6" lengthAdjust="spacingAndGlyphs" stroke="#000" stroke-width="0.3" style='font-family:"Liberation Sans", sans-serif;white-space:pre;' >&lt;/STOP&gt;</text>
<text x="784.1" y="695.9" font-size="21" fill="#262626" textLength="170.6" lengthAdjust="spacingAndGlyphs" style='font-family:"Liberation Serif", serif;white-space:pre;font-weight:bold;' >Inference Prompt:</text>
<text x="962.4" y="696.5" font-size="19.5" fill="#000" textLength="5.4" lengthAdjust="spacingAndGlyphs" style='font-family:"Liberation Sans", sans-serif;white-space:pre;' >[</text>
<text x="969.1" y="696.5" font-size="18.8" fill="#b1a6a1" textLength="147.0" lengthAdjust="spacingAndGlyphs" stroke="#b1a6a1" stroke-width="0.3" style='font-family:"Liberation Sans", sans-serif;white-space:pre;font-weight:bold;' >SYSTEM MESSAGE</text>
<text x="1117.0" y="696.5" font-size="19.5" fill="#000" textLength="5.4" lengthAdjust="spacingAndGlyphs" style='font-family:"Liberation Sans", sans-serif;white-space:pre;' >]</text>
<text x="1130.2" y="695.9" font-size="19.3" fill="#000" textLength="53.5" lengthAdjust="spacingAndGlyphs" style='font-family:"Liberation Serif", serif;white-space:pre;' >USER:</text>
<text x="1184.8" y="696.5" font-size="19.5" fill="#000" textLength="5.4" lengthAdjust="spacingAndGlyphs" style='font-family:"Liberation Sans", sans-serif;white-space:pre;' >[</text>
<text x="1190.7" y="696.5" font-size="18.8" fill="#b05f2c" textLength="41.7" lengthAdjust="spacingAndGlyphs" stroke="#b05f2c" stroke-width="0.3" style='font-family:"Liberation Sans", sans-serif;white-space:pre;font-weight:bold;' >USER</text>
<text x="1232.6" y="696.5" font-size="19.5" fill="#000" textLength="5.4" lengthAdjust="spacingAndGlyphs" style='font-family:"Liberation Sans", sans-serif;white-space:pre;' >]</text>
<text x="784.1" y="720.5" font-size="19.3" fill="#000" textLength="109.6" lengthAdjust="spacingAndGlyphs" style='font-family:"Liberation Serif", serif;white-space:pre;' >ASSISTANT:</text>
<text x="1402.8" y="93.0" font-size="22" fill="#000" textLength="187.6" lengthAdjust="spacingAndGlyphs" stroke="#000" stroke-width="0.3" style='font-family:"Liberation Sans", sans-serif;white-space:pre;font-weight:bold;' >Node Classification</text>
<rect x="1452.1" y="108.6" width="436.5" height="135.5" rx="19" fill="#f8e4d5"/>
<path d="M1454.1,187.5 L1452.1,187.5 L1432.2,239.4 L1452.1,224.2 L1454.1,224.2 Z" fill="#f8e4d5"/>
<g transform="translate(1403.1,250.5)">
<circle r="20.8" fill="#f2c14e"/>
<clipPath id="wc1403250"><circle r="20.8"/></clipPath>
<g clip-path="url(#wc1403250)">
<path d="M-12.6,22 L-12.6,10.5 C-12.6,8.5 -11,7.5 -9,7.3 L-3,6.8 L3,6.8 L9,7.3 C11,7.5 12.8,8.5 12.8,10.5 L12.8,22 Z" fill="#e8575a"/>
<path d="M-8.6,7.1 L0,14.6 L8.6,7.1 Z" fill="#fff"/>
<path d="M-3,2 L3,2 L3,7.5 L0,12.5 L-3,7.5 Z" fill="#f7cb9e"/>
</g>
<path d="M-10,2 C-10.6,-4 -10.6,-10 -7.2,-14.3 C-4.5,-17.8 4.5,-17.8 7.2,-14.3 C10.6,-10 10.6,-4 10,2 C9.8,3.9 8.6,4.3 7.6,3.9 L-7.6,3.9 C-8.6,4.3 -9.8,3.9 -10,2 Z" fill="#4f5558"/>
<path d="M0,-10.3 C-2,-8 -6,-7.6 -6,-4.5 L-6,-1.8 C-6,1.2 -3.2,2.6 0,2.6 C3.2,2.6 6,1.2 6,-1.8 L6,-4.5 C6,-7.6 2,-8 0,-10.3 Z" fill="#f7cb9e"/>
</g>
<text x="1475.5" y="137.6" font-size="19.3" fill="#2b3139" textLength="376.2" lengthAdjust="spacingAndGlyphs" style='font-family:"Liberation Serif", serif;white-space:pre;' >Given a node-centered graph: &lt;node sequence&gt;,</text>
<text x="1475.5" y="160.4" font-size="19.3" fill="#2b3139" textLength="331.4" lengthAdjust="spacingAndGlyphs" style='font-family:"Liberation Serif", serif;white-space:pre;' >we need to classify the center node into 40</text>
<text x="1475.5" y="183.5" font-size="19.3" fill="#2b3139" textLength="285.4" lengthAdjust="spacingAndGlyphs" style='font-family:"Liberation Serif", serif;white-space:pre;' >classes: cs.NA(Numerical Analysis),</text>
<text x="1475.5" y="206.8" font-size="19.3" fill="#2b3139" textLength="357.8" lengthAdjust="spacingAndGlyphs" style='font-family:"Liberation Serif", serif;white-space:pre;' >cs.MM(Multimedia), …, please tell me which</text>
<text x="1475.5" y="230.2" font-size="19.3" fill="#2b3139" textLength="254.8" lengthAdjust="spacingAndGlyphs" style='font-family:"Liberation Serif", serif;white-space:pre;' >class the center node belongs to?</text>
<rect x="1418.8" y="257.1" width="440.9" height="46.6" rx="6" fill="#d9d9d9"/>
<path d="M1857.7,283.6 L1859.7,283.6 L1875.3,306.5 L1859.7,298.0 L1857.7,298.0 Z" fill="#d9d9d9"/>
<text x="1437.5" y="288.8" font-size="19.3" fill="#2f3a48" textLength="216.5" lengthAdjust="spacingAndGlyphs" style='font-family:"Liberation Serif", serif;white-space:pre;' >cs.NA(Numerical Analysis)</text>
<g transform="translate(1908.5,317.5)">
<circle r="21.1" fill="#eb9b38"/>
<clipPath id="rc1908317"><circle r="21.1"/></clipPath>
<path clip-path="url(#rc1908317)" d="M9.7,-14.6 L40,16 L16,40 L-9,14 L8.5,14 L8.8,7.6 L9.7,-5.4 Z" fill="#da8a2e"/>
<rect x="-9.3" y="-14.6" width="19" height="9.2" rx="2.3" fill="#fff"/>
<circle cx="-4.1" cy="-10" r="3.6" fill="#4a90d9"/><circle cx="4.2" cy="-10" r="3.6" fill="#3f7fd0"/>
<circle cx="-4.1" cy="-10" r="1.1" fill="#1b3f6e"/><circle cx="4.2" cy="-10" r="1.1" fill="#1b3f6e"/>
<rect x="-2.6" y="-5" width="4.9" height="2.4" fill="#1f3a4a"/>
<rect x="-9" y="-2.4" width="17.8" height="10" rx="2.2" fill="#fff"/>
<path d="M0,-2.4 L6.6,-2.4 Q8.8,-2.4 8.8,-0.2 L8.8,5.4 Q8.8,7.6 6.6,7.6 L0,7.6 Z" fill="#e6e6e6"/>
<rect x="-2.3" y="7.9" width="4.4" height="2.2" fill="#1f3a4a"/>
<rect x="-8.1" y="10.9" width="16.6" height="3.2" rx="1.6" fill="#fff"/>
<path d="M8.8,1.2 L14,1.2 L14,-3.6" stroke="#1f3a4a" stroke-width="2.2" fill="none"/>
<path d="M12,-8.2 L12,-6 A2,2 0 0 0 16,-6 L16,-8.2" stroke="#fff" stroke-width="1.8" fill="none"/>
<rect x="-11.6" y="-0.2" width="2.6" height="2.9" fill="#1f3a4a"/>
<circle cx="-13.2" cy="0.9" r="1.2" fill="#fff"/>
<path d="M-10.5,3.9 A2.4,2.4 0 1 0 -10.5,7.9" stroke="#fff" stroke-width="1.9" fill="none"/>
</g>
<text x="1417.9" y="334.0" font-size="22" fill="#000" textLength="146.3" lengthAdjust="spacingAndGlyphs" stroke="#000" stroke-width="0.3" style='font-family:"Liberation Sans", sans-serif;white-space:pre;font-weight:bold;' >Link Prediction</text>
<rect x="1452.5" y="342.5" width="436.8" height="120.9" rx="20" fill="#f8e4d5"/>
<path d="M1454.5,413.7 L1452.5,413.7 L1427.7,454.5 L1452.5,444.9 L1454.5,444.9 Z" fill="#f8e4d5"/>
<g transform="translate(1401.9,434.4)">
<circle r="20.8" fill="#f2c14e"/>
<clipPath id="wc1401434"><circle r="20.8"/></clipPath>
<g clip-path="url(#wc1401434)">
<path d="M-12.6,22 L-12.6,10.5 C-12.6,8.5 -11,7.5 -9,7.3 L-3,6.8 L3,6.8 L9,7.3 C11,7.5 12.8,8.5 12.8,10.5 L12.8,22 Z" fill="#e8575a"/>
<path d="M-8.6,7.1 L0,14.6 L8.6,7.1 Z" fill="#fff"/>
<path d="M-3,2 L3,2 L3,7.5 L0,12.5 L-3,7.5 Z" fill="#f7cb9e"/>
</g>
<path d="M-10,2 C-10.6,-4 -10.6,-10 -7.2,-14.3 C-4.5,-17.8 4.5,-17.8 7.2,-14.3 C10.6,-10 10.6,-4 10,2 C9.8,3.9 8.6,4.3 7.6,3.9 L-7.6,3.9 C-8.6,4.3 -9.8,3.9 -10,2 Z" fill="#4f5558"/>
<path d="M0,-10.3 C-2,-8 -6,-7.6 -6,-4.5 L-6,-1.8 C-6,1.2 -3.2,2.6 0,2.6 C3.2,2.6 6,1.2 6,-1.8 L6,-4.5 C6,-7.6 2,-8 0,-10.3 Z" fill="#f7cb9e"/>
</g>
<text x="1475.7" y="375.3" font-size="19.3" fill="#111" textLength="290.4" lengthAdjust="spacingAndGlyphs" style='font-family:"Liberation Serif", serif;white-space:pre;' >Given two node-centered subgraphs: </text>
<text x="1766.1" y="375.3" font-size="19.3" fill="#2f3a48" textLength="11.2" lengthAdjust="spacingAndGlyphs" style='font-family:"Liberation Serif", serif;white-space:pre;' >&lt;</text>
<text x="1777.3" y="375.3" font-size="19.3" fill="#2f3a48" textLength="36.5" lengthAdjust="spacingAndGlyphs" style='font-family:"Liberation Serif", serif;white-space:pre;' >node</text>
<text x="1475.7" y="397.6" font-size="19.3" fill="#2f3a48" textLength="69.3" lengthAdjust="spacingAndGlyphs" style='font-family:"Liberation Serif", serif;white-space:pre;' >sequence</text>
<text x="1545.0" y="397.6" font-size="19.3" fill="#111" textLength="66.0" lengthAdjust="spacingAndGlyphs" style='font-family:"Liberation Serif", serif;white-space:pre;' >&gt; and &lt; </text>
<text x="1611.0" y="397.6" font-size="19.3" fill="#2f3a48" textLength="113.6" lengthAdjust="spacingAndGlyphs" style='font-family:"Liberation Serif", serif;white-space:pre;' >node sequence</text>
<text x="1724.6" y="397.6" font-size="19.3" fill="#111" textLength="138.9" lengthAdjust="spacingAndGlyphs" style='font-family:"Liberation Serif", serif;white-space:pre;' >&gt;... Please tell me</text>
<text x="1475.7" y="420.9" font-size="19.3" fill="#111" textLength="387.8" lengthAdjust="spacingAndGlyphs" style='font-family:"Liberation Serif", serif;white-space:pre;' >whether two center nodes in the subgraphs should</text>
<text x="1475.7" y="444.2" font-size="19.3" fill="#111" textLength="315.8" lengthAdjust="spacingAndGlyphs" style='font-family:"Liberation Serif", serif;white-space:pre;' >connect to each other. Answer yes or no.</text>
<rect x="1432.5" y="476.6" width="430.5" height="46.8" rx="7" fill="#d9d9d9"/>
<path d="M1861.0,503.6 L1863.0,503.6 L1877.8,525.7 L1863.0,516.3 L1861.0,516.3 Z" fill="#d9d9d9"/>
<text x="1451.2" y="508.3" font-size="19.3" fill="#2f3a48" style='font-family:"Liberation Serif", serif;white-space:pre;' >No</text>
<g transform="translate(1908.7,534.9)">
<circle r="21.1" fill="#eb9b38"/>
<clipPath id="rc1908534"><circle r="21.1"/></clipPath>
<path clip-path="url(#rc1908534)" d="M9.7,-14.6 L40,16 L16,40 L-9,14 L8.5,14 L8.8,7.6 L9.7,-5.4 Z" fill="#da8a2e"/>
<rect x="-9.3" y="-14.6" width="19" height="9.2" rx="2.3" fill="#fff"/>
<circle cx="-4.1" cy="-10" r="3.6" fill="#4a90d9"/><circle cx="4.2" cy="-10" r="3.6" fill="#3f7fd0"/>
<circle cx="-4.1" cy="-10" r="1.1" fill="#1b3f6e"/><circle cx="4.2" cy="-10" r="1.1" fill="#1b3f6e"/>
<rect x="-2.6" y="-5" width="4.9" height="2.4" fill="#1f3a4a"/>
<rect x="-9" y="-2.4" width="17.8" height="10" rx="2.2" fill="#fff"/>
<path d="M0,-2.4 L6.6,-2.4 Q8.8,-2.4 8.8,-0.2 L8.8,5.4 Q8.8,7.6 6.6,7.6 L0,7.6 Z" fill="#e6e6e6"/>
<rect x="-2.3" y="7.9" width="4.4" height="2.2" fill="#1f3a4a"/>
<rect x="-8.1" y="10.9" width="16.6" height="3.2" rx="1.6" fill="#fff"/>
<path d="M8.8,1.2 L14,1.2 L14,-3.6" stroke="#1f3a4a" stroke-width="2.2" fill="none"/>
<path d="M12,-8.2 L12,-6 A2,2 0 0 0 16,-6 L16,-8.2" stroke="#fff" stroke-width="1.8" fill="none"/>
<rect x="-11.6" y="-0.2" width="2.6" height="2.9" fill="#1f3a4a"/>
<circle cx="-13.2" cy="0.9" r="1.2" fill="#fff"/>
<path d="M-10.5,3.9 A2.4,2.4 0 1 0 -10.5,7.9" stroke="#fff" stroke-width="1.9" fill="none"/>
</g>
<text x="1418.5" y="552.6" font-size="22" fill="#000" textLength="170.2" lengthAdjust="spacingAndGlyphs" stroke="#000" stroke-width="0.3" style='font-family:"Liberation Sans", sans-serif;white-space:pre;font-weight:bold;' >Node Description</text>
<rect x="1452.1" y="567.5" width="436.1" height="43.1" rx="6" fill="#f8e4d5"/>
<path d="M1454.1,592.2 L1452.1,592.2 L1436.4,609.5 L1452.1,604.7 L1454.1,604.7 Z" fill="#f8e4d5"/>
<g transform="translate(1401.9,617.6)">
<circle r="20.8" fill="#f2c14e"/>
<clipPath id="wc1401617"><circle r="20.8"/></clipPath>
<g clip-path="url(#wc1401617)">
<path d="M-12.6,22 L-12.6,10.5 C-12.6,8.5 -11,7.5 -9,7.3 L-3,6.8 L3,6.8 L9,7.3 C11,7.5 12.8,8.5 12.8,10.5 L12.8,22 Z" fill="#e8575a"/>
<path d="M-8.6,7.1 L0,14.6 L8.6,7.1 Z" fill="#fff"/>
<path d="M-3,2 L3,2 L3,7.5 L0,12.5 L-3,7.5 Z" fill="#f7cb9e"/>
</g>
<path d="M-10,2 C-10.6,-4 -10.6,-10 -7.2,-14.3 C-4.5,-17.8 4.5,-17.8 7.2,-14.3 C10.6,-10 10.6,-4 10,2 C9.8,3.9 8.6,4.3 7.6,3.9 L-7.6,3.9 C-8.6,4.3 -9.8,3.9 -10,2 Z" fill="#4f5558"/>
<path d="M0,-10.3 C-2,-8 -6,-7.6 -6,-4.5 L-6,-1.8 C-6,1.2 -3.2,2.6 0,2.6 C3.2,2.6 6,1.2 6,-1.8 L6,-4.5 C6,-7.6 2,-8 0,-10.3 Z" fill="#f7cb9e"/>
</g>
<text x="1471.1" y="597.4" font-size="19.3" fill="#111" textLength="261.9" lengthAdjust="spacingAndGlyphs" style='font-family:"Liberation Serif", serif;white-space:pre;' >Please describe the center node : </text>
<text x="1733.0" y="597.4" font-size="19.3" fill="#2f3a48" textLength="136.6" lengthAdjust="spacingAndGlyphs" style='font-family:"Liberation Serif", serif;white-space:pre;' >&lt;node sequence&gt;.</text>
<rect x="1432.9" y="620.2" width="426.6" height="114.2" rx="27" fill="#d9d9d9"/>
<path d="M1857.5,686.7 L1859.5,686.7 L1878.8,717.3 L1859.5,715.6 L1857.5,715.6 Z" fill="#d9d9d9"/>
<text x="1454.7" y="650.2" font-size="19.3" fill="#2f3a48" textLength="290.2" lengthAdjust="spacingAndGlyphs" style='font-family:"Liberation Serif", serif;white-space:pre;' >The center node represents a paper in</text>
<text x="1454.7" y="672.8" font-size="19.3" fill="#2f3a48" textLength="305.0" lengthAdjust="spacingAndGlyphs" style='font-family:"Liberation Serif", serif;white-space:pre;' >cs.AI(Artificial Intelligence), it’s about</text>
<text x="1454.7" y="695.8" font-size="19.3" fill="#2f3a48" textLength="370.8" lengthAdjust="spacingAndGlyphs" style='font-family:"Liberation Serif", serif;white-space:pre;' >simultaneous merging multiple grid maps using</text>
<text x="1454.7" y="719.4" font-size="19.3" fill="#2f3a48" textLength="223.4" lengthAdjust="spacingAndGlyphs" style='font-family:"Liberation Serif", serif;white-space:pre;' >the robust motion averaging.</text>
<g transform="translate(1908.7,727.1)">
<circle r="21.1" fill="#eb9b38"/>
<clipPath id="rc1908727"><circle r="21.1"/></clipPath>
<path clip-path="url(#rc1908727)" d="M9.7,-14.6 L40,16 L16,40 L-9,14 L8.5,14 L8.8,7.6 L9.7,-5.4 Z" fill="#da8a2e"/>
<rect x="-9.3" y="-14.6" width="19" height="9.2" rx="2.3" fill="#fff"/>
<circle cx="-4.1" cy="-10" r="3.6" fill="#4a90d9"/><circle cx="4.2" cy="-10" r="3.6" fill="#3f7fd0"/>
<circle cx="-4.1" cy="-10" r="1.1" fill="#1b3f6e"/><circle cx="4.2" cy="-10" r="1.1" fill="#1b3f6e"/>
<rect x="-2.6" y="-5" width="4.9" height="2.4" fill="#1f3a4a"/>
<rect x="-9" y="-2.4" width="17.8" height="10" rx="2.2" fill="#fff"/>
<path d="M0,-2.4 L6.6,-2.4 Q8.8,-2.4 8.8,-0.2 L8.8,5.4 Q8.8,7.6 6.6,7.6 L0,7.6 Z" fill="#e6e6e6"/>
<rect x="-2.3" y="7.9" width="4.4" height="2.2" fill="#1f3a4a"/>
<rect x="-8.1" y="10.9" width="16.6" height="3.2" rx="1.6" fill="#fff"/>
<path d="M8.8,1.2 L14,1.2 L14,-3.6" stroke="#1f3a4a" stroke-width="2.2" fill="none"/>
<path d="M12,-8.2 L12,-6 A2,2 0 0 0 16,-6 L16,-8.2" stroke="#fff" stroke-width="1.8" fill="none"/>
<rect x="-11.6" y="-0.2" width="2.6" height="2.9" fill="#1f3a4a"/>
<circle cx="-13.2" cy="0.9" r="1.2" fill="#fff"/>
<path d="M-10.5,3.9 A2.4,2.4 0 1 0 -10.5,7.9" stroke="#fff" stroke-width="1.9" fill="none"/>
</g>
</svg>
</body></html>
